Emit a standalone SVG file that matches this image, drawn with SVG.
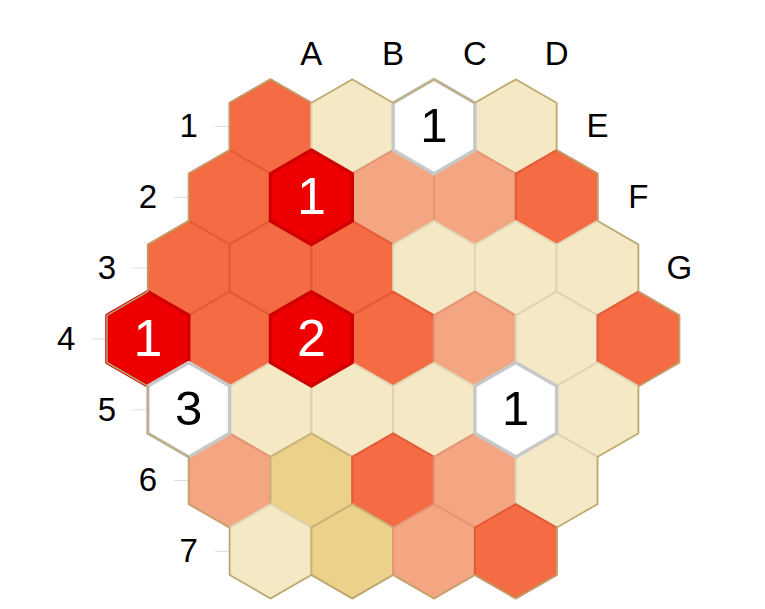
<svg xmlns="http://www.w3.org/2000/svg" xmlns:xlink="http://www.w3.org/1999/xlink" width="765" height="609" viewBox="0 0 765 609">
<style>
.h{stroke-width:2;stroke-linejoin:round}
.O{fill:#f46b44;stroke:#e35a36}
.R{fill:#ee0000;stroke:#cf0000;stroke-width:3.5}
.S{fill:#f4a683;stroke:#e59574}
.C{fill:#f4e8c5;stroke:#e0d4b2}
.T{fill:#ebd18a;stroke:#c9b476}
.W{fill:#ffffff;stroke:#c8c8c8;stroke-width:3.5}
.lab{font-family:"Liberation Sans",Arial,sans-serif;font-size:33px;fill:#000;text-anchor:middle}
.num{font-family:"Liberation Sans",Arial,sans-serif;text-anchor:middle}
.nw{fill:#ffffff;font-size:52px}
.nb{fill:#000000;font-size:49px}
.tick{stroke:#dddddd;stroke-width:1}
</style>
<defs>
<polygon id="hex" points="0,-47.2 40.875,-23.6 40.875,23.6 0,47.2 -40.875,23.6 -40.875,-23.6"/>
</defs>
<rect width="765" height="609" fill="#ffffff"/>
<g id="axes">
<line class="tick" x1="215" y1="126.5" x2="229" y2="126.5"/>
<line class="tick" x1="174" y1="197.3" x2="188" y2="197.3"/>
<line class="tick" x1="133" y1="268.1" x2="147" y2="268.1"/>
<line class="tick" x1="92" y1="338.9" x2="106" y2="338.9"/>
<line class="tick" x1="133" y1="409.7" x2="147" y2="409.7"/>
<line class="tick" x1="174" y1="480.5" x2="188" y2="480.5"/>
<line class="tick" x1="215" y1="551.3" x2="229" y2="551.3"/>
</g>
<g id="hexes">
<g id="r1c1"><use xlink:href="#hex" class="h O" x="270.5" y="126.5"/></g>
<g id="r1c2"><use xlink:href="#hex" class="h C" x="352.25" y="126.5"/></g>
<g id="r1c4"><use xlink:href="#hex" class="h C" x="515.75" y="126.5"/></g>

<g id="r2c1"><use xlink:href="#hex" class="h O" x="229.625" y="197.3"/></g>
<g id="r2c3"><use xlink:href="#hex" class="h S" x="393.125" y="197.3"/></g>
<g id="r2c4"><use xlink:href="#hex" class="h S" x="474.875" y="197.3"/></g>
<g id="r2c5"><use xlink:href="#hex" class="h O" x="556.625" y="197.3"/></g>

<g id="r3c1"><use xlink:href="#hex" class="h O" x="188.75" y="268.1"/></g>
<g id="r3c2"><use xlink:href="#hex" class="h O" x="270.5" y="268.1"/></g>
<g id="r3c3"><use xlink:href="#hex" class="h O" x="352.25" y="268.1"/></g>
<g id="r3c4"><use xlink:href="#hex" class="h C" x="434" y="268.1"/></g>
<g id="r3c5"><use xlink:href="#hex" class="h C" x="515.75" y="268.1"/></g>
<g id="r3c6"><use xlink:href="#hex" class="h C" x="597.5" y="268.1"/></g>

<g id="r4c2"><use xlink:href="#hex" class="h O" x="229.625" y="338.9"/></g>
<g id="r4c4"><use xlink:href="#hex" class="h O" x="393.125" y="338.9"/></g>
<g id="r4c5"><use xlink:href="#hex" class="h S" x="474.875" y="338.9"/></g>
<g id="r4c6"><use xlink:href="#hex" class="h C" x="556.625" y="338.9"/></g>
<g id="r4c7"><use xlink:href="#hex" class="h O" x="638.375" y="338.9"/></g>

<g id="r5c2"><use xlink:href="#hex" class="h C" x="270.5" y="409.7"/></g>
<g id="r5c3"><use xlink:href="#hex" class="h C" x="352.25" y="409.7"/></g>
<g id="r5c4"><use xlink:href="#hex" class="h C" x="434" y="409.7"/></g>
<g id="r5c6"><use xlink:href="#hex" class="h C" x="597.5" y="409.7"/></g>

<g id="r6c1"><use xlink:href="#hex" class="h S" x="229.625" y="480.5"/></g>
<g id="r6c2"><use xlink:href="#hex" class="h T" x="311.375" y="480.5"/></g>
<g id="r6c3"><use xlink:href="#hex" class="h O" x="393.125" y="480.5"/></g>
<g id="r6c4"><use xlink:href="#hex" class="h S" x="474.875" y="480.5"/></g>
<g id="r6c5"><use xlink:href="#hex" class="h C" x="556.625" y="480.5"/></g>

<g id="r7c1"><use xlink:href="#hex" class="h C" x="270.5" y="551.3"/></g>
<g id="r7c2"><use xlink:href="#hex" class="h T" x="352.25" y="551.3"/></g>
<g id="r7c3"><use xlink:href="#hex" class="h S" x="434" y="551.3"/></g>
<g id="r7c4"><use xlink:href="#hex" class="h O" x="515.75" y="551.3"/></g>

<g id="r2c2"><use xlink:href="#hex" class="h R" x="311.375" y="197.3"/><text class="num nw" x="311.375" y="214">1</text></g>
<g id="r4c1"><use xlink:href="#hex" class="h R" x="147.875" y="338.9"/><text class="num nw" x="147.875" y="355.6">1</text></g>
<g id="r4c3"><use xlink:href="#hex" class="h R" x="311.375" y="338.9"/><text class="num nw" x="311.375" y="355.6">2</text></g>

<g id="r1c3"><use xlink:href="#hex" class="h W" x="434" y="126.5"/><text class="num nb" x="434" y="142.2">1</text></g>
<g id="r5c1"><use xlink:href="#hex" class="h W" x="188.75" y="409.7"/><text class="num nb" x="188.75" y="425.4">3</text></g>
<g id="r5c5"><use xlink:href="#hex" class="h W" x="515.75" y="409.7"/><text class="num nb" x="515.75" y="425.4">1</text></g>
</g>
<g id="border">
<polygon fill="none" stroke="#bca86e" stroke-width="1.5" stroke-linejoin="round" points="229.625,102.9 270.5,79.3 311.375,102.9 352.25,79.3 393.125,102.9 434,79.3 474.875,102.9 515.75,79.3 556.625,102.9 556.625,150.1 597.5,173.7 597.5,220.9 638.375,244.5 638.375,291.7 679.25,315.3 679.25,362.5 638.375,386.1 638.375,433.3 597.5,456.9 597.5,504.1 556.625,527.7 556.625,574.9 515.75,598.5 474.875,574.9 434,598.5 393.125,574.9 352.25,598.5 311.375,574.9 270.5,598.5 229.625,574.9 229.625,527.7 188.75,504.1 188.75,456.9 147.875,433.3 147.875,386.1 107,362.5 107,315.3 147.875,291.7 147.875,244.5 188.75,220.9 188.75,173.7 229.625,150.1"/>
</g>
<g id="labels">
<text class="lab" x="311.375" y="64.5">A</text>
<text class="lab" x="393.125" y="64.5">B</text>
<text class="lab" x="474.875" y="64.5">C</text>
<text class="lab" x="556.625" y="64.5">D</text>
<text class="lab" x="597.5" y="137.3">E</text>
<text class="lab" x="638.375" y="208.1">F</text>
<text class="lab" x="679.25" y="278.9">G</text>
<text class="lab" x="188.75" y="137.3">1</text>
<text class="lab" x="147.875" y="208.1">2</text>
<text class="lab" x="107" y="278.9">3</text>
<text class="lab" x="66.125" y="349.7">4</text>
<text class="lab" x="107" y="420.5">5</text>
<text class="lab" x="147.875" y="491.3">6</text>
<text class="lab" x="188.75" y="562.1">7</text>
</g>
</svg>
